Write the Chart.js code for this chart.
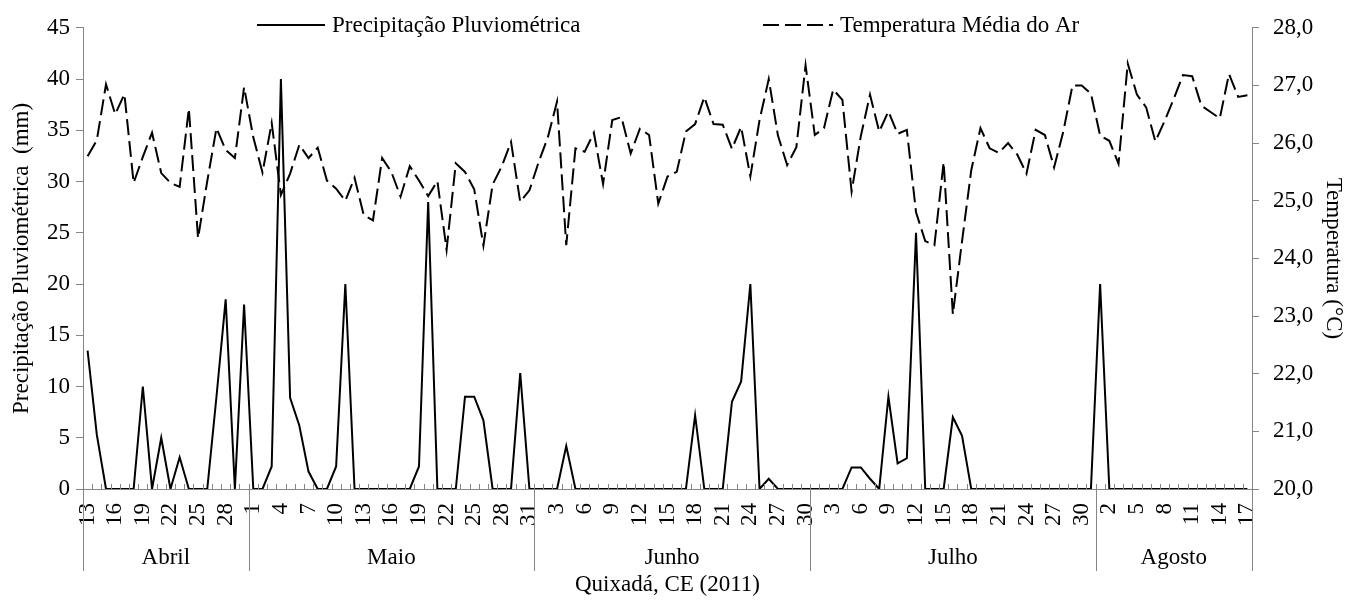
<!DOCTYPE html>
<html>
<head>
<meta charset="utf-8">
<script src="https://cdn.jsdelivr.net/npm/chart.js@4.4.1/dist/chart.umd.min.js"></script>
<style>
  html, body { margin: 0; padding: 0; background: #fff; }
  #wrap { width: 1347px; height: 601px; }
</style>
</head>
<body>
<div id="wrap"><canvas id="chart"></canvas></div>
<script>
// Days shown on the axis (Quixadá, 13 Apr - 17 Aug 2011)
const abrilDays = [13, 14, 15, 16, 17, 18, 19, 20, 21, 22, 23, 24, 25, 26, 27, 28, 29, 30];
const maioDays = [1, 2, 3, 4, 5, 6, 7, 8, 9, 10, 11, 12, 13, 14, 15, 16, 17, 18, 19, 20, 21, 22, 23, 24, 25, 26, 27, 28, 29, 30, 31];
const junhoDays = [1, 2, 3, 4, 5, 6, 7, 8, 9, 10, 11, 12, 13, 14, 15, 16, 17, 18, 19, 20, 21, 22, 23, 24, 25, 26, 27, 28, 29, 30];
const julhoDays = [1, 2, 3, 4, 5, 6, 7, 8, 9, 10, 11, 12, 13, 14, 15, 16, 17, 18, 19, 20, 21, 22, 23, 24, 25, 26, 27, 28, 29, 30, 31];
const agostoDays = [1, 2, 3, 4, 5, 6, 7, 8, 9, 10, 11, 12, 13, 14, 15, 16, 17];

const monthNames = ["Abril", "Maio", "Junho", "Julho", "Agosto"];
const monthDays = [abrilDays, maioDays, junhoDays, julhoDays, agostoDays];

// Precipitação pluviométrica (mm)
const chuvaAbril = [13.5, 5.3, 0, 0, 0, 0, 10, 0, 5, 0, 3.1, 0, 0, 0, 9, 18.5, 0, 18];
const chuvaMaio = [0, 0, 2.2, 40, 8.9, 6.2, 1.7, 0, 0, 2.2, 20, 0, 0, 0, 0, 0, 0, 0, 2.2, 28, 0, 0, 0, 9, 9, 6.7, 0, 0, 0, 11.3, 0];
const chuvaJunho = [0, 0, 0, 4.2, 0, 0, 0, 0, 0, 0, 0, 0, 0, 0, 0, 0, 0, 7.2, 0, 0, 0, 8.5, 10.5, 20, 0, 1.0, 0, 0, 0, 0];
const chuvaJulho = [0, 0, 0, 0, 2.1, 2.1, 1.0, 0, 9, 2.5, 3.0, 25, 0, 0, 0, 7.0, 5.2, 0, 0, 0, 0, 0, 0, 0, 0, 0, 0, 0, 0, 0, 0];
const chuvaAgosto = [20, 0, 0, 0, 0, 0, 0, 0, 0, 0, 0, 0, 0, 0, 0, 0, 0];

// Temperatura média do ar (°C)
const tempAbril = [25.77, 26.05, 27.02, 26.5, 26.85, 25.31, 25.76, 26.18, 25.48, 25.31, 25.24, 26.6, 24.35, 25.34, 26.26, 25.88, 25.74, 26.97];
const tempMaio = [26.1, 25.49, 26.35, 25.1, 25.47, 25.97, 25.74, 25.92, 25.35, 25.21, 25.0, 25.4, 24.75, 24.66, 25.74, 25.5, 25.07, 25.6, 25.35, 25.08, 25.34, 24.15, 25.65, 25.5, 25.2, 24.22, 25.28, 25.6, 26.02, 24.98, 25.18];
const tempJunho = [25.67, 26.1, 26.72, 24.23, 25.91, 25.85, 26.18, 25.29, 26.4, 26.45, 25.82, 26.25, 26.14, 24.95, 25.42, 25.5, 26.2, 26.33, 26.8, 26.33, 26.32, 25.9, 26.28, 25.42, 26.4, 27.11, 26.13, 25.62, 25.93, 27.35];
const tempJulho = [26.14, 26.26, 26.93, 26.75, 25.16, 26.12, 26.84, 26.2, 26.55, 26.16, 26.23, 24.8, 24.3, 24.23, 25.67, 23.03, 24.3, 25.53, 26.26, 25.91, 25.83, 26.0, 25.8, 25.47, 26.23, 26.14, 25.58, 26.2, 27.0, 27.0, 26.86];
const tempAgosto = [26.13, 26.04, 25.64, 27.38, 26.84, 26.62, 26.03, 26.38, 26.77, 27.18, 27.16, 26.65, 26.54, 26.43, 27.2, 26.8, 26.83];

const days = [].concat(abrilDays, maioDays, junhoDays, julhoDays, agostoDays).map(String);
const chuva = [].concat(chuvaAbril, chuvaMaio, chuvaJunho, chuvaJulho, chuvaAgosto);
const temperatura = [].concat(tempAbril, tempMaio, tempJunho, tempJulho, tempAgosto);

const AXIS_GRAY = "#868686";
const FONT_FAMILY = "'Liberation Serif', 'Times New Roman', serif";
const FONT_SIZE = 23;

Chart.defaults.font.family = FONT_FAMILY;
Chart.defaults.font.size = FONT_SIZE;
Chart.defaults.color = "#000";

// Inside day ticks, month separators and month names under the day labels
const monthAxis = {
    id: "monthAxis",
    afterDraw(chart) {
        const ctx = chart.ctx;
        const x = chart.scales.x;
        const bottom = chart.chartArea.bottom;
        ctx.save();
        ctx.strokeStyle = AXIS_GRAY;
        ctx.lineWidth = 1;
        for (let i = 0; i <= days.length; i++) {
            const px = Math.round(x.getPixelForValue(i - 0.5)) + 0.5;
            ctx.beginPath();
            ctx.moveTo(px, bottom);
            ctx.lineTo(px, bottom - 5);
            ctx.stroke();
        }
        let start = 0;
        ctx.fillStyle = "#000";
        ctx.font = FONT_SIZE + "px " + FONT_FAMILY;
        ctx.textAlign = "center";
        ctx.textBaseline = "middle";
        for (let m = 0; m <= monthNames.length; m++) {
            const px = Math.round(x.getPixelForValue(start - 0.5)) + 0.5;
            ctx.beginPath();
            ctx.moveTo(px, bottom);
            ctx.lineTo(px, bottom + 82);
            ctx.stroke();
            if (m < monthNames.length) {
                const end = start + monthDays[m].length;
                const mid = (x.getPixelForValue(start - 0.5) + x.getPixelForValue(end - 0.5)) / 2;
                ctx.fillText(monthNames[m], mid, bottom + 69);
                start = end;
            }
        }
        ctx.restore();
    }
};

// Legend drawn inside the top of the plot, the way the original shows it
const topLegend = {
    id: "topLegend",
    afterDraw(chart) {
        const ctx = chart.ctx;
        const spots = [[257, 325], [763, 833]];
        ctx.save();
        chart.data.datasets.forEach((ds, i) => {
            const [x1, x2] = spots[i];
            const y = 25;
            ctx.strokeStyle = ds.borderColor;
            ctx.lineWidth = ds.borderWidth;
            ctx.setLineDash(ds.borderDash || []);
            ctx.beginPath();
            ctx.moveTo(x1, y);
            ctx.lineTo(x2, y);
            ctx.stroke();
            ctx.setLineDash([]);
            ctx.fillStyle = "#000";
            ctx.font = FONT_SIZE + "px " + FONT_FAMILY;
            ctx.textAlign = "left";
            ctx.textBaseline = "middle";
            ctx.fillText(ds.label, x2 + 7, y + 1);
        });
        ctx.restore();
    }
};

new Chart(document.getElementById("chart"), {
    type: "line",
    data: {
        labels: days,
        datasets: [
            {
                label: "Precipitação Pluviométrica",
                data: chuva,
                yAxisID: "y",
                borderColor: "#000",
                borderWidth: 2,
                pointRadius: 0,
                tension: 0
            },
            {
                label: "Temperatura Média do Ar",
                data: temperatura,
                yAxisID: "y1",
                borderColor: "#000",
                borderWidth: 2,
                borderDash: [16, 6],
                pointRadius: 0,
                tension: 0
            }
        ]
    },
    options: {
        responsive: true,
        maintainAspectRatio: false,
        animation: false,
        layout: { padding: { top: 21, left: 0, right: 0, bottom: 0 } },
        plugins: {
            legend: { display: false },
            tooltip: { enabled: false }
        },
        scales: {
            x: {
                type: "category",
                offset: true,
                grid: { display: false, drawTicks: false },
                border: { color: AXIS_GRAY, width: 1 },
                ticks: {
                    autoSkip: false,
                    maxRotation: 90,
                    minRotation: 90,
                    padding: 14,
                    callback: function (value, index) {
                        return index % 3 === 0 ? this.getLabelForValue(value) : "";
                    }
                },
                title: {
                    display: true,
                    text: "Quixadá, CE (2011)",
                    padding: { top: 0, bottom: 2 }
                },
                afterFit: function (scale) { scale.height = 112; }
            },
            y: {
                position: "left",
                min: 0,
                max: 45,
                ticks: { stepSize: 5, padding: 6 },
                grid: { drawOnChartArea: false, tickLength: 7, color: AXIS_GRAY },
                border: { color: AXIS_GRAY, width: 1 },
                title: {
                    display: true,
                    text: "Precipitação Pluviométrica  (mm)",
                    padding: { top: 8, bottom: 0 }
                },
                afterFit: function (scale) { scale.width = 83; }
            },
            y1: {
                position: "right",
                min: 20,
                max: 28,
                ticks: {
                    stepSize: 1,
                    padding: 14,
                    callback: function (value) { return value.toFixed(1).replace(".", ","); }
                },
                grid: { drawOnChartArea: false, tickLength: 7, color: AXIS_GRAY },
                border: { color: AXIS_GRAY, width: 1 },
                title: {
                    display: true,
                    text: "Temperatura (°C)",
                    padding: { top: 0, bottom: 0 }
                },
                afterFit: function (scale) { scale.width = 95; }
            }
        }
    },
    plugins: [monthAxis, topLegend]
});
</script>
</body>
</html>
